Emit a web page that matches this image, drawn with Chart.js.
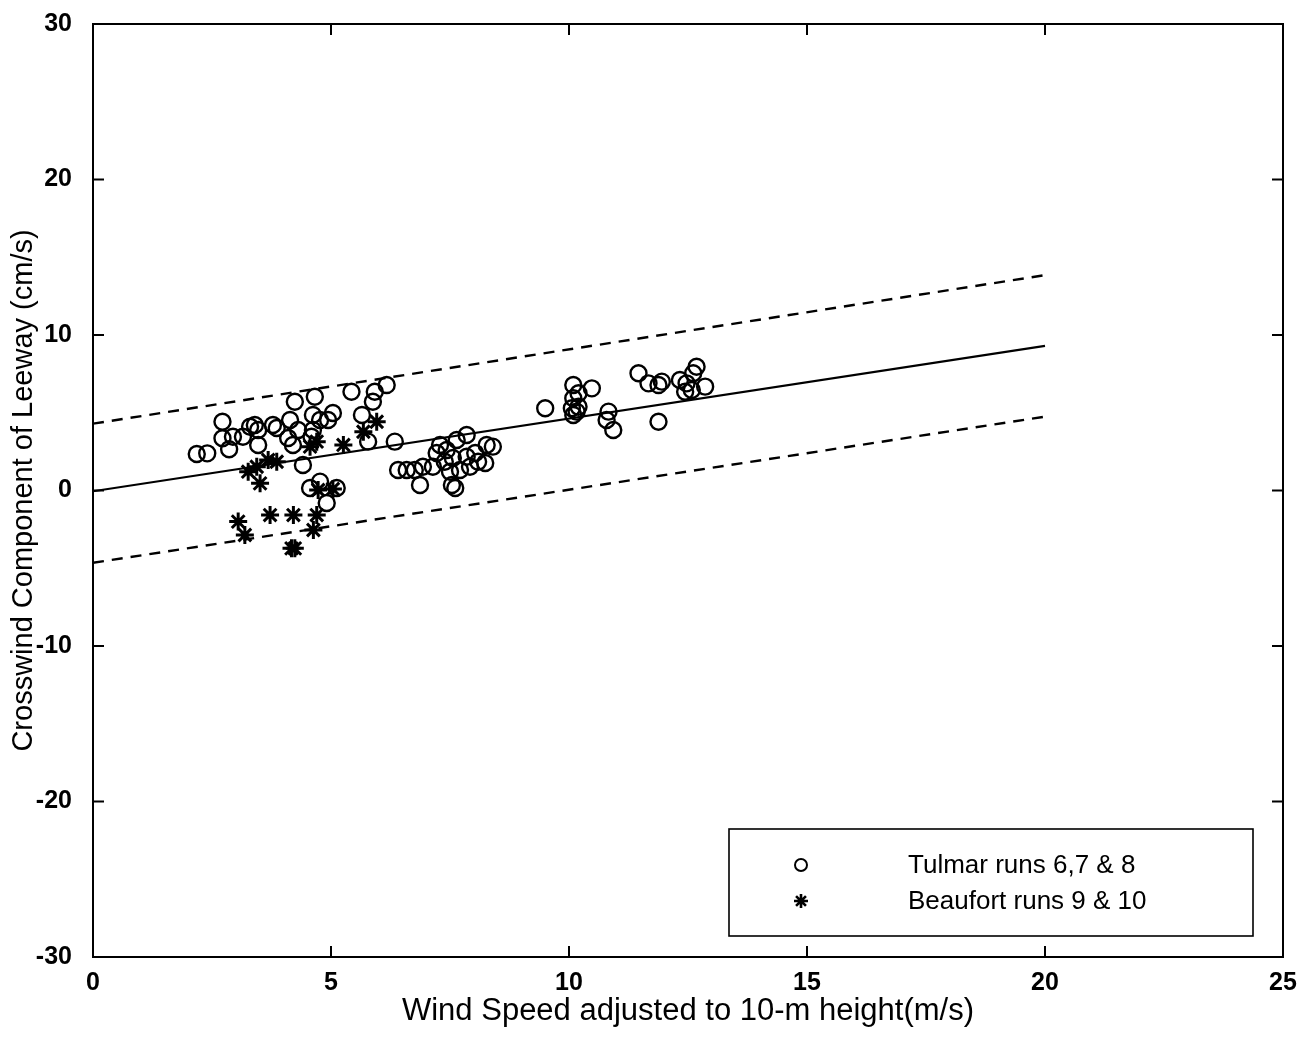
<!DOCTYPE html>
<html>
<head>
<meta charset="utf-8">
<script src="https://cdn.jsdelivr.net/npm/chart.js@4/dist/chart.umd.min.js"></script>
<style>
html,body{margin:0;padding:0;background:#fff;}
#wrap{width:1307px;height:1038px;}
</style>
</head>
<body>
<div id="wrap"><canvas id="c" width="1307" height="1038"></canvas></div>
<script>
// ---- data ----
const xTickValues = [0, 5, 10, 15, 20, 25];
const yTickValues = [-30, -20, -10, 0, 10, 20, 30];
const xAxisTitle = 'Wind Speed adjusted to 10-m height(m/s)';
const yAxisTitle = 'Crosswind Component of Leeway (cm/s)';
const tulmarLabel = 'Tulmar runs 6,7 & 8';
const beaufortLabel = 'Beaufort runs 9 & 10';

const tulmarX = [2.18,2.40,2.72,2.72,2.86,2.94,3.15,3.30,3.40,3.47,3.47,3.78,3.86,4.14,4.10,4.20,4.24,4.31,4.66,4.62,4.62,4.59,4.77,4.94,5.04,5.43,5.65,5.88,5.92,6.17,5.78,6.34,4.41,4.56,4.77,4.91,5.12,
  6.41,6.59,6.76,6.93,6.87,7.14,7.22,7.29,7.39,7.50,7.56,7.54,7.61,7.64,7.85,7.92,8.03,8.09,8.24,8.27,8.40,7.71,7.43,7.85,
  9.50,10.09,10.09,10.06,10.09,10.20,10.20,10.16,10.48,10.83,10.79,10.93,11.46,11.67,11.88,11.88,11.95,12.33,12.47,12.61,12.68,12.58,12.44,12.86];
const tulmarY = [2.35,2.39,4.42,3.36,2.65,3.46,3.46,4.10,4.21,3.89,2.93,4.21,4.02,4.53,3.38,2.93,5.71,3.89,6.03,4.86,3.89,3.46,4.53,4.53,4.98,6.35,4.86,5.71,6.35,6.78,3.14,3.14,1.64,0.16,0.57,-0.80,0.16,
  1.32,1.32,1.32,1.53,0.35,1.53,2.41,2.93,1.85,1.21,2.09,0.35,0.16,3.25,3.57,1.53,2.41,1.85,1.77,2.93,2.82,1.32,2.60,2.17,
  5.29,6.78,5.93,5.29,4.86,6.25,5.39,5.07,6.57,5.07,4.53,3.89,7.54,6.89,6.78,4.42,7.00,7.11,6.89,7.54,7.96,6.46,6.35,6.68];

const beaufortX = [5.96,5.68,5.26,4.70,4.56,3.86,3.68,3.44,3.26,3.51,3.05,3.19,3.72,4.70,4.63,4.17,4.24,4.21,5.04,4.73];
const beaufortY = [4.42,3.78,2.93,3.14,2.82,1.85,1.96,1.53,1.21,0.46,-2.00,-2.86,-1.58,-1.58,-2.54,-3.72,-3.72,-1.58,0.10,0.03];

const fitX = [0, 20];
const fitY = [-0.05, 9.3];
const upperY = [4.3, 13.85];
const lowerY = [-4.65, 4.75];

// ---- build ----
const pts = (xs, ys) => xs.map((x, i) => ({x, y: ys[i]}));
const FONT = '"Liberation Sans", Arial, Helvetica, sans-serif';

const framePlugin = {
  id: 'frame',
  afterDatasetsDraw(chart) {
    const {ctx, chartArea: a, scales} = chart;
    ctx.save();
    ctx.strokeStyle = '#000';
    ctx.lineWidth = 2;
    ctx.strokeRect(a.left, a.top, a.right - a.left, a.bottom - a.top);
    const L = 11;
    ctx.beginPath();
    xTickValues.forEach(v => {
      const px = scales.x.getPixelForValue(v);
      ctx.moveTo(px, a.bottom); ctx.lineTo(px, a.bottom - L);
      ctx.moveTo(px, a.top); ctx.lineTo(px, a.top + L);
    });
    yTickValues.forEach(v => {
      const py = scales.y.getPixelForValue(v);
      ctx.moveTo(a.left, py); ctx.lineTo(a.left + L, py);
      ctx.moveTo(a.right, py); ctx.lineTo(a.right - L, py);
    });
    ctx.stroke();

    // legend box
    const bw = 524, bh = 107;
    const bx = a.right - 30 - bw, by = a.bottom - 21 - bh;
    ctx.fillStyle = '#fff';
    ctx.fillRect(bx, by, bw, bh);
    ctx.lineWidth = 1.6;
    ctx.strokeRect(bx, by, bw, bh);
    const items = chart.data.datasets.filter(d => d.inLegend);
    items.forEach((d, i) => {
      const cy = by + 36 + i * 36;
      ctx.lineWidth = d.legendBorder;
      ctx.strokeStyle = '#000';
      ctx.fillStyle = 'rgba(0,0,0,0)';
      Chart.helpers.drawPoint(ctx, {pointStyle: d.pointStyle, radius: d.legendRadius, borderWidth: d.legendBorder}, bx + 72, cy);
      ctx.fillStyle = '#000';
      ctx.font = '26px ' + FONT;
      ctx.textBaseline = 'middle';
      ctx.textAlign = 'left';
      ctx.fillText(d.label, bx + 179, cy + 1);
    });
    ctx.restore();
  }
};

new Chart(document.getElementById('c'), {
  type: 'scatter',
  data: {
    datasets: [
      {label: 'fit', data: pts(fitX, fitY), showLine: true, borderColor: '#000', borderWidth: 2.2, pointRadius: 0, fill: false},
      {label: 'upper', data: pts(fitX, upperY), showLine: true, borderColor: '#000', borderWidth: 2.4, borderDash: [11, 8], pointRadius: 0, fill: false},
      {label: 'lower', data: pts(fitX, lowerY), showLine: true, borderColor: '#000', borderWidth: 2.4, borderDash: [11, 8], pointRadius: 0, fill: false},
      {label: tulmarLabel, inLegend: true, data: pts(tulmarX, tulmarY), pointStyle: 'circle', pointRadius: 8, pointBorderWidth: 2.4, pointBorderColor: '#000', pointBackgroundColor: 'rgba(0,0,0,0)', legendRadius: 6, legendBorder: 2},
      {label: beaufortLabel, inLegend: true, data: pts(beaufortX, beaufortY), pointStyle: 'star', pointRadius: 9, pointBorderWidth: 3, pointBorderColor: '#000', pointBackgroundColor: '#000', legendRadius: 7, legendBorder: 2.6}
    ]
  },
  options: {
    responsive: false,
    animation: false,
    layout: {padding: {left: 0, right: 24, top: 24, bottom: 0}},
    plugins: {legend: {display: false}, tooltip: {enabled: false}},
    scales: {
      x: {
        type: 'linear', min: 0, max: 25,
        afterBuildTicks: s => { s.ticks = xTickValues.map(v => ({value: v})); },
        afterFit: s => { s.height = 81; s.paddingLeft = 0; s.paddingRight = 0; },
        grid: {display: false, drawTicks: false},
        border: {display: false},
        ticks: {padding: 11, color: '#000', font: {family: FONT, size: 25, weight: 'bold'}, maxRotation: 0},
        title: {display: true, text: xAxisTitle, color: '#000', font: {family: FONT, size: 31}, padding: {top: 8, bottom: 8}}
      },
      y: {
        type: 'linear', min: -30, max: 30,
        afterBuildTicks: s => { s.ticks = yTickValues.map(v => ({value: v})); },
        afterFit: s => { s.width = 93; s.paddingTop = 0; s.paddingBottom = 0; },
        grid: {display: false, drawTicks: false},
        border: {display: false},
        ticks: {padding: 21, color: '#000', font: {family: FONT, size: 25, weight: 'bold'}},
        title: {display: true, text: yAxisTitle, color: '#000', font: {family: FONT, size: 29}, padding: {top: 7, bottom: 7}}
      }
    }
  },
  plugins: [framePlugin]
});
</script>
</body>
</html>
